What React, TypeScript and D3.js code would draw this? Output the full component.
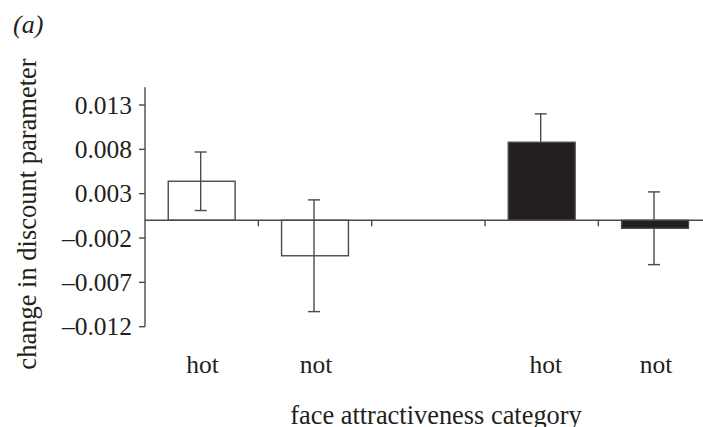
import React from 'react';
import * as d3 from 'd3';

const width = 703;
const height = 427;

// one slot per column, the middle one is an empty gap between the two groups
const slots = ["hot1", "not1", "gap", "hot2", "not2"];
const slotLabels = ["hot", "not", "", "hot", "not"];
const barSlots = ["hot1", "not1", "hot2", "not2"];
const means = [0.0044, -0.0040, 0.0088, -0.0009];
const errors = [0.0033, 0.0063, 0.0032, 0.0041];
const filled = [false, false, true, true];
const yTicks = [0.013, 0.008, 0.003, -0.002, -0.007, -0.012];

const ink = "#231f20";
const lineColor = "#4a4a4a";
const serif = "'Liberation Serif', 'Times New Roman', serif";

const fmt = d3.format(".3f");
const tickLabel = (v: number) => (v < 0 ? "\u2013" + fmt(-v) : fmt(v));

const App = () => {
	const y = d3.scaleLinear().domain([-0.012, 0.013]).range([326.7, 105]);

	const cell = d3.scaleBand().domain(slots).range([145, 711.7]).padding(0);
	const x = d3.scaleBand().domain(slots).range([145, 711.7])
		.paddingInner(0.41).paddingOuter(0.205);

	const x0 = cell.range()[0];
	const zeroY = y(0);
	const capHalf = 6;

	const renderError = (s: string, i: number) => {
		const cx = (x(s) as number) + x.bandwidth() / 2 - 1;
		const hi = y(means[i] + errors[i]);
		const lo = y(means[i] - errors[i]);
		return (
			<g key={s} stroke={lineColor} strokeWidth={1.4}>
				<line x1={cx} x2={cx} y1={hi} y2={lo} />
				<line x1={cx - capHalf} x2={cx + capHalf} y1={hi} y2={hi} />
				<line x1={cx - capHalf} x2={cx + capHalf} y1={lo} y2={lo} />
			</g>
		);
	};

	return (
		<svg width={width} height={height}
			style={{ position: 'absolute', left: 0, top: 0, background: '#fff' }}
			fontFamily={serif}>
			<text x={13} y={33} fontSize={26} fontStyle="italic" fill={ink}>
				(a)
			</text>

			{/* y axis */}
			<g className="y-axis">
				<line x1={x0} x2={x0} y1={y(0.015)} y2={y(-0.012)}
					stroke={lineColor} strokeWidth={1.4} />
				{ yTicks.map(t => (
					<g key={t} transform={`translate(${x0},${y(t)})`}>
						<line x1={-6} x2={0} stroke={lineColor} strokeWidth={1.4} />
						<text x={-13} dy="0.34em" textAnchor="end" fontSize={25.5} fill={ink}>
							{ tickLabel(t) }
						</text>
					</g>
				)) }
			</g>

			<text transform={`translate(36,${214}) rotate(-90)`}
				textAnchor="middle" fontSize={26.5} fill={ink}>
				change in discount parameter
			</text>

			{/* error bars of the filled bars sit behind them, only the top part shows */}
			<g className="errors-behind">
				{ barSlots.map((s, i) => filled[i] ? renderError(s, i) : null) }
			</g>

			{/* bars */}
			<g className="bars">
				{ barSlots.map((s, i) => {
					const v = means[i];
					const top = y(Math.max(0, v));
					const h = Math.abs(y(v) - zeroY);
					return (
						<rect key={s}
							x={x(s)} y={top}
							width={x.bandwidth()} height={h}
							fill={filled[i] ? ink : '#fff'}
							stroke={lineColor}
							strokeWidth={1.4} />
					);
				}) }
			</g>

			{/* zero line with slot boundary ticks */}
			<g className="x-axis">
				<line x1={x0} x2={width} y1={zeroY} y2={zeroY}
					stroke={lineColor} strokeWidth={1.4} />
				{ slots.slice(1).map(s => (
					<line key={s} x1={cell(s)} x2={cell(s)} y1={zeroY} y2={zeroY + 6}
						stroke={lineColor} strokeWidth={1.4} />
				)) }
				{ slots.map((s, i) => (
					<text key={s}
						x={(cell(s) as number) + cell.bandwidth() / 2 + (i === 3 ? 4 : 1)}
						y={373} textAnchor="middle" fontSize={25.5} fill={ink}>
						{ slotLabels[i] }
					</text>
				)) }
			</g>

			<g className="errors">
				{ barSlots.map((s, i) => filled[i] ? null : renderError(s, i)) }
			</g>

			<text x={436} y={424} textAnchor="middle" fontSize={26.4} fill={ink}>
				face attractiveness category
			</text>
		</svg>
	);
};

export default App;
